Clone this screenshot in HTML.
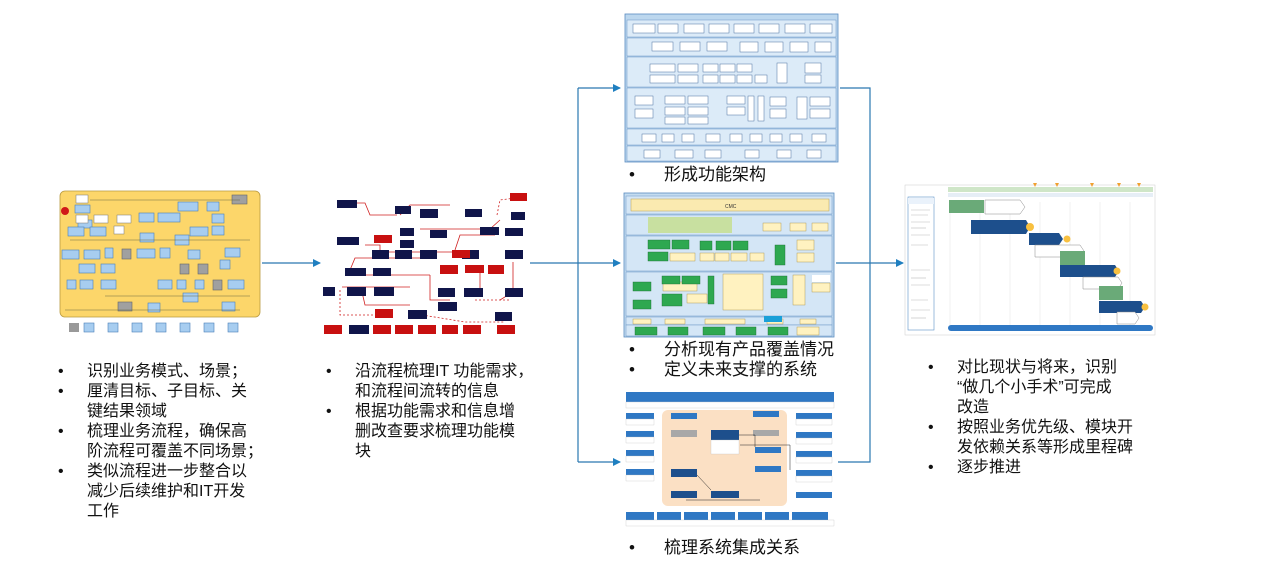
<!DOCTYPE html>
<html><head><meta charset="utf-8">
<style>
body{margin:0;width:1270px;height:572px;background:#fff;position:relative;overflow:hidden;font-family:"Liberation Sans","Noto Sans CJK SC",sans-serif;color:#111}
.t{position:absolute;font-size:16px;line-height:20px}
.t .b{position:absolute;left:-29px}
.c{font-size:17px}
svg{position:absolute;left:0;top:0}
</style></head><body>
<svg width="1270" height="572" viewBox="0 0 1270 572">
<defs>
<marker id="ar" markerWidth="8" markerHeight="8" refX="7" refY="4" orient="auto" markerUnits="userSpaceOnUse"><path d="M0,0 L8,4 L0,8 z" fill="#1f7fc0"/></marker>
</defs>
<g stroke="#2a78b0" stroke-width="1.2" fill="none">
<line x1="262" y1="263" x2="320" y2="263" marker-end="url(#ar)"/>
<polyline points="530,263 578,263"/>
<line x1="578" y1="88" x2="578" y2="462"/>
<line x1="578" y1="88" x2="620" y2="88" marker-end="url(#ar)"/>
<line x1="578" y1="263" x2="620" y2="263" marker-end="url(#ar)"/>
<line x1="578" y1="462" x2="620" y2="462" marker-end="url(#ar)"/>
<polyline points="840,88 870,88 870,462 838,462"/>
<line x1="836" y1="263" x2="870" y2="263"/>
<line x1="870" y1="263" x2="903" y2="263" marker-end="url(#ar)"/>
</g>

<rect x="60" y="191" width="200" height="126" rx="5" fill="#fcd66a" stroke="#b99a40" stroke-width="0.8"/>
<circle cx="65" cy="211" r="4" fill="#d01818"/>
<g fill="#a7cdf0" stroke="#4a7fb8" stroke-width="0.6">
<rect x="75" y="205" width="15" height="8"/><rect x="78" y="220" width="14" height="8"/>
<rect x="68" y="227" width="16" height="9"/><rect x="90" y="227" width="16" height="9"/>
<rect x="139" y="213" width="15" height="9"/><rect x="158" y="213" width="22" height="9"/>
<rect x="178" y="202" width="20" height="9"/><rect x="207" y="202" width="12" height="9"/>
<rect x="212" y="214" width="12" height="9"/><rect x="212" y="226" width="12" height="9"/>
<rect x="190" y="227" width="18" height="9"/><rect x="140" y="233" width="14" height="9"/>
<rect x="62" y="250" width="17" height="9"/><rect x="84" y="250" width="16" height="9"/>
<rect x="105" y="248" width="8" height="10"/><rect x="137" y="249" width="18" height="9"/>
<rect x="160" y="248" width="10" height="10"/><rect x="188" y="250" width="12" height="9"/>
<rect x="225" y="248" width="15" height="9"/><rect x="220" y="260" width="10" height="9"/>
<rect x="79" y="264" width="16" height="9"/><rect x="101" y="264" width="14" height="9"/>
<rect x="67" y="280" width="9" height="9"/><rect x="80" y="280" width="13" height="9"/>
<rect x="101" y="280" width="15" height="9"/><rect x="158" y="280" width="14" height="9"/>
<rect x="177" y="280" width="9" height="9"/><rect x="195" y="280" width="9" height="9"/>
<rect x="228" y="280" width="16" height="9"/><rect x="183" y="293" width="15" height="9"/>
<rect x="148" y="303" width="12" height="9"/><rect x="222" y="302" width="13" height="9"/>
<rect x="175" y="235" width="14" height="10"/>
</g>
<g fill="#a0a0a0" stroke="#666" stroke-width="0.6">
<rect x="232" y="195" width="15" height="9"/><rect x="122" y="249" width="9" height="10"/>
<rect x="180" y="264" width="9" height="10"/><rect x="198" y="264" width="10" height="10"/>
<rect x="213" y="280" width="9" height="10"/><rect x="118" y="302" width="14" height="9"/>
</g>
<g fill="#fff" stroke="#777" stroke-width="0.5">
<rect x="76" y="195" width="12" height="8"/><rect x="76" y="215" width="12" height="8"/>
<rect x="94" y="215" width="14" height="8"/><rect x="117" y="215" width="14" height="8"/>
<rect x="114" y="226" width="10" height="8"/>
</g>
<g stroke="#6a6a40" stroke-width="0.5" fill="none">
<polyline points="90,200 240,200"/><polyline points="70,240 250,240"/><polyline points="105,296 250,296"/><polyline points="65,310 240,310"/>
</g>
<g fill="#a7cdf0" stroke="#4a7fb8" stroke-width="0.6">
<rect x="84" y="323" width="10" height="9"/><rect x="108" y="323" width="10" height="9"/>
<rect x="132" y="323" width="10" height="9"/><rect x="156" y="323" width="10" height="9"/>
<rect x="180" y="323" width="10" height="9"/><rect x="204" y="323" width="10" height="9"/>
<rect x="228" y="323" width="10" height="9"/>
</g>
<rect x="69" y="323" width="10" height="9" fill="#999"/>

<g stroke="#d02020" stroke-width="0.8" fill="none">
<polyline points="350,203 365,203 370,215 397,215"/>
<polyline points="400,215 410,205 450,205"/>
<polyline points="420,229 490,229 500,220"/>
<polyline points="365,245 380,245 380,252 470,252"/>
<polyline points="350,270 355,258 425,258"/>
<polyline points="342,287 350,287 370,287 410,287"/>
<polyline points="362,292 365,305 410,305"/>
<polyline points="430,275 430,300 450,300"/>
<polyline points="480,265 480,290"/>
<polyline points="513,262 513,292 500,300"/>
<polyline points="455,250 460,235 495,235"/>
<polyline points="365,275 430,275"/>
</g>
<g stroke="#d02020" stroke-width="0.8" fill="none" stroke-dasharray="2,2">
<polyline points="340,290 340,315 380,315"/>
<polyline points="410,313 465,322 505,322"/>
<polyline points="497,215 500,200 515,198"/>
<polyline points="475,300 510,300"/>
</g>
<g fill="#10154a">
<rect x="337" y="200" width="20" height="8"/><rect x="395" y="206" width="16" height="8"/>
<rect x="420" y="209" width="18" height="9"/><rect x="465" y="209" width="17" height="8"/>
<rect x="511" y="212" width="14" height="8"/><rect x="430" y="230" width="17" height="8"/>
<rect x="400" y="228" width="14" height="8"/><rect x="400" y="240" width="14" height="8"/>
<rect x="337" y="237" width="22" height="8"/><rect x="372" y="250" width="17" height="9"/>
<rect x="395" y="250" width="17" height="9"/><rect x="420" y="250" width="17" height="9"/>
<rect x="480" y="227" width="19" height="8"/><rect x="505" y="228" width="18" height="8"/>
<rect x="462" y="250" width="17" height="9"/><rect x="505" y="250" width="18" height="9"/>
<rect x="345" y="268" width="21" height="8"/><rect x="373" y="268" width="18" height="8"/>
<rect x="323" y="287" width="12" height="9"/><rect x="347" y="287" width="19" height="9"/>
<rect x="374" y="287" width="20" height="9"/><rect x="438" y="288" width="17" height="9"/>
<rect x="464" y="288" width="19" height="9"/><rect x="505" y="288" width="18" height="9"/>
<rect x="438" y="302" width="19" height="9"/><rect x="408" y="310" width="19" height="9"/>
<rect x="495" y="312" width="17" height="9"/><rect x="349" y="325" width="20" height="9"/>
</g>
<g fill="#c81010">
<rect x="374" y="235" width="18" height="8"/><rect x="452" y="250" width="18" height="8"/>
<rect x="440" y="265" width="18" height="9"/><rect x="465" y="265" width="19" height="8"/>
<rect x="488" y="265" width="16" height="9"/><rect x="510" y="193" width="17" height="8"/>
<rect x="375" y="309" width="18" height="9"/>
<rect x="324" y="325" width="18" height="9"/><rect x="373" y="325" width="18" height="9"/>
<rect x="395" y="325" width="18" height="9"/><rect x="418" y="325" width="18" height="9"/>
<rect x="442" y="325" width="16" height="9"/><rect x="463" y="325" width="18" height="9"/>
<rect x="497" y="325" width="18" height="9"/>
</g>

<rect x="625" y="14" width="213" height="148" fill="#bcd7ee" stroke="#5a8cc0" stroke-width="0.8"/>
<g fill="#dcebf8" stroke="#6a96c6" stroke-width="0.5">
<rect x="627" y="20" width="209" height="17"/>
<rect x="627" y="38" width="209" height="18"/>
<rect x="627" y="57" width="209" height="30"/>
<rect x="627" y="88" width="209" height="40"/>
<rect x="627" y="129" width="209" height="16"/>
<rect x="627" y="146" width="209" height="15"/>
</g>
<g fill="#fff" stroke="#4a72a0" stroke-width="0.5">
<rect x="633" y="24" width="22" height="9"/><rect x="658" y="24" width="20" height="9"/><rect x="684" y="24" width="20" height="9"/><rect x="709" y="24" width="20" height="9"/><rect x="734" y="24" width="20" height="9"/><rect x="759" y="24" width="20" height="9"/><rect x="785" y="24" width="20" height="9"/><rect x="810" y="24" width="22" height="9"/>
<rect x="652" y="42" width="21" height="9"/><rect x="680" y="42" width="20" height="9"/><rect x="707" y="42" width="20" height="9"/><rect x="740" y="42" width="18" height="10"/><rect x="765" y="42" width="18" height="10"/><rect x="790" y="42" width="18" height="10"/><rect x="815" y="42" width="16" height="10"/>
<rect x="650" y="64" width="25" height="8"/><rect x="678" y="64" width="20" height="8"/><rect x="650" y="75" width="25" height="8"/><rect x="678" y="75" width="20" height="8"/><rect x="703" y="64" width="15" height="8"/><rect x="720" y="64" width="15" height="8"/><rect x="737" y="64" width="15" height="8"/><rect x="703" y="75" width="15" height="8"/><rect x="720" y="75" width="15" height="8"/><rect x="737" y="75" width="15" height="8"/><rect x="755" y="75" width="12" height="8"/><rect x="777" y="63" width="10" height="20"/><rect x="805" y="63" width="16" height="10"/><rect x="805" y="75" width="16" height="8"/>
<rect x="635" y="96" width="18" height="9"/><rect x="635" y="109" width="18" height="9"/><rect x="665" y="96" width="20" height="8"/><rect x="688" y="96" width="20" height="8"/><rect x="665" y="107" width="20" height="8"/><rect x="688" y="107" width="20" height="8"/><rect x="665" y="117" width="20" height="7"/><rect x="688" y="117" width="20" height="7"/><rect x="727" y="96" width="18" height="8"/><rect x="727" y="107" width="18" height="8"/><rect x="748" y="96" width="6" height="25"/><rect x="758" y="96" width="6" height="25"/><rect x="770" y="97" width="16" height="9"/><rect x="770" y="109" width="16" height="9"/><rect x="797" y="97" width="10" height="22"/><rect x="810" y="97" width="20" height="9"/><rect x="810" y="109" width="20" height="9"/>
<rect x="642" y="134" width="14" height="8"/><rect x="662" y="134" width="12" height="8"/><rect x="682" y="134" width="12" height="8"/><rect x="706" y="134" width="14" height="8"/><rect x="730" y="134" width="12" height="8"/><rect x="750" y="134" width="12" height="8"/><rect x="770" y="134" width="12" height="8"/><rect x="790" y="134" width="12" height="8"/><rect x="812" y="134" width="14" height="8"/>
<rect x="644" y="150" width="16" height="8"/><rect x="675" y="150" width="18" height="8"/><rect x="705" y="150" width="16" height="8"/><rect x="745" y="150" width="14" height="8"/><rect x="777" y="150" width="14" height="8"/><rect x="807" y="150" width="14" height="8"/>
</g>

<rect x="624" y="193" width="210" height="144" fill="#c4dcf0" stroke="#5a8cc0" stroke-width="0.8"/>
<g fill="#d4e6f6" stroke="#6a96c6" stroke-width="0.5">
<rect x="626" y="196" width="206" height="18"/><rect x="626" y="215" width="206" height="20"/><rect x="626" y="236" width="206" height="35"/><rect x="626" y="272" width="206" height="44"/><rect x="626" y="317" width="206" height="8"/><rect x="626" y="325" width="206" height="11"/>
</g>
<rect x="631" y="199" width="198" height="12" fill="#faeab0" stroke="#b9a050" stroke-width="0.5"/>
<text x="725" y="208" font-size="5" fill="#333">CMC</text>
<rect x="648" y="217" width="84" height="16" fill="#c8e0a0"/>
<g fill="#fff2c0" stroke="#a08a40" stroke-width="0.4">
<rect x="763" y="223" width="18" height="8"/><rect x="790" y="223" width="16" height="8"/><rect x="812" y="223" width="16" height="8"/>
<rect x="670" y="253" width="25" height="8"/><rect x="700" y="253" width="14" height="8"/><rect x="715" y="253" width="14" height="8"/><rect x="731" y="253" width="16" height="8"/><rect x="750" y="253" width="14" height="8"/><rect x="797" y="240" width="17" height="10"/><rect x="797" y="253" width="17" height="9"/>
<rect x="663" y="282" width="34" height="9"/><rect x="687" y="294" width="20" height="9"/><rect x="723" y="274" width="40" height="36"/><rect x="793" y="275" width="12" height="30"/><rect x="812" y="283" width="18" height="9"/>
<rect x="633" y="319" width="18" height="5"/><rect x="665" y="319" width="20" height="5"/><rect x="705" y="319" width="40" height="5"/><rect x="767" y="319" width="16" height="5"/><rect x="800" y="319" width="16" height="5"/><rect x="797" y="327" width="22" height="8"/>
</g>
<g fill="#2ea850" stroke="#1b6a30" stroke-width="0.4">
<rect x="648" y="240" width="22" height="9"/><rect x="672" y="240" width="17" height="9"/><rect x="648" y="252" width="20" height="9"/>
<rect x="700" y="241" width="12" height="9"/><rect x="716" y="241" width="15" height="9"/><rect x="733" y="241" width="15" height="9"/><rect x="775" y="245" width="10" height="20"/>
<rect x="633" y="282" width="18" height="9"/><rect x="633" y="300" width="18" height="9"/><rect x="662" y="276" width="18" height="8"/><rect x="682" y="276" width="18" height="8"/><rect x="662" y="294" width="20" height="12"/><rect x="708" y="276" width="6" height="28"/><rect x="771" y="276" width="16" height="9"/><rect x="771" y="289" width="16" height="9"/>
<rect x="635" y="327" width="22" height="8"/><rect x="668" y="327" width="20" height="8"/><rect x="703" y="327" width="22" height="8"/><rect x="736" y="327" width="20" height="8"/><rect x="768" y="327" width="20" height="8"/>
</g>
<rect x="764" y="316" width="18" height="6" fill="#1aa0d8"/>
<rect x="812" y="275" width="18" height="7" fill="#fff"/>

<rect x="626" y="392" width="208" height="10" fill="#2f78c4"/>
<rect x="626" y="402" width="208" height="6" fill="#fff" stroke="#ccc" stroke-width="0.4"/>
<rect x="662" y="410" width="125" height="96" rx="6" fill="#fbe0c4"/>
<g fill="#2f78c4">
<rect x="626" y="413" width="28" height="6"/><rect x="626" y="431" width="28" height="6"/><rect x="626" y="450" width="28" height="6"/><rect x="626" y="469" width="28" height="6"/>
<rect x="671" y="413" width="26" height="6"/><rect x="753" y="411" width="26" height="6"/><rect x="755" y="447" width="26" height="6"/><rect x="755" y="466" width="26" height="6"/>
<rect x="796" y="413" width="36" height="6"/><rect x="796" y="432" width="36" height="6"/><rect x="796" y="451" width="36" height="6"/><rect x="796" y="470" width="36" height="6"/><rect x="796" y="492" width="36" height="6"/>
<rect x="626" y="512" width="28" height="8"/><rect x="657" y="512" width="24" height="8"/><rect x="684" y="512" width="24" height="8"/><rect x="711" y="512" width="24" height="8"/><rect x="738" y="512" width="24" height="8"/><rect x="765" y="512" width="24" height="8"/><rect x="792" y="512" width="36" height="8"/>
</g>
<g fill="#1d4f8c">
<rect x="711" y="430" width="28" height="10"/><rect x="671" y="469" width="26" height="8"/><rect x="671" y="491" width="26" height="7"/><rect x="711" y="491" width="28" height="7"/>
</g>
<g fill="#a8a8a8"><rect x="671" y="430" width="26" height="7"/><rect x="753" y="430" width="26" height="6"/></g>
<g fill="#fff" stroke="#bbb" stroke-width="0.3">
<rect x="711" y="440" width="28" height="14"/><rect x="626" y="419" width="28" height="6"/><rect x="626" y="437" width="28" height="6"/><rect x="626" y="456" width="28" height="6"/><rect x="626" y="475" width="28" height="6"/>
<rect x="796" y="419" width="36" height="6"/><rect x="796" y="438" width="36" height="6"/><rect x="796" y="457" width="36" height="6"/><rect x="796" y="476" width="36" height="6"/>
<rect x="626" y="520" width="208" height="6"/>
</g>
<g stroke="#222" stroke-width="0.5" fill="none">
<polyline points="739,435 755,435 755,447"/><polyline points="697,475 711,490"/><polyline points="740,445 790,445 790,470"/><line x1="686" y1="500" x2="760" y2="500"/>
</g>

<rect x="905" y="185" width="250" height="150" fill="#fff" stroke="#ccc" stroke-width="0.5"/>
<rect x="908" y="197" width="26" height="133" fill="#fff" stroke="#5a90c8" stroke-width="0.6"/>
<rect x="908" y="198" width="26" height="6" fill="#eaf2fb"/>
<g stroke="#bbb" stroke-width="0.6">
<line x1="911" y1="210" x2="930" y2="210"/><line x1="911" y1="215" x2="928" y2="215"/><line x1="911" y1="222" x2="930" y2="222"/><line x1="911" y1="228" x2="926" y2="228"/><line x1="911" y1="235" x2="930" y2="235"/><line x1="911" y1="245" x2="928" y2="245"/><line x1="911" y1="270" x2="930" y2="270"/><line x1="911" y1="278" x2="926" y2="278"/><line x1="911" y1="285" x2="930" y2="285"/><line x1="911" y1="300" x2="928" y2="300"/><line x1="911" y1="310" x2="930" y2="310"/><line x1="911" y1="318" x2="926" y2="318"/>
</g>
<g stroke="#ddd" stroke-width="0.4">
<line x1="950" y1="202" x2="950" y2="325"/><line x1="980" y1="202" x2="980" y2="325"/><line x1="1010" y1="202" x2="1010" y2="325"/><line x1="1040" y1="202" x2="1040" y2="325"/><line x1="1070" y1="202" x2="1070" y2="325"/><line x1="1100" y1="202" x2="1100" y2="325"/><line x1="1130" y1="202" x2="1130" y2="325"/>
</g>
<rect x="948" y="187" width="205" height="5" fill="#cfe6c8"/>
<rect x="948" y="193" width="205" height="4" fill="#e6eef6"/>
<g fill="#f0a030"><path d="M1033,183 l4,0 l-2,4z"/><path d="M1055,183 l4,0 l-2,4z"/><path d="M1090,183 l4,0 l-2,4z"/><path d="M1117,183 l4,0 l-2,4z"/><path d="M1137,183 l4,0 l-2,4z"/></g>
<rect x="949" y="200" width="35" height="13" fill="#6aaa78"/>
<path d="M985,200 h35 l5,7 l-5,7 h-35z" fill="#fff" stroke="#888" stroke-width="0.5"/>
<path d="M971,220 h55 l4,7 l-4,7 h-55z" fill="#1d4f8c"/>
<path d="M1029,233 h30 l4,6 l-4,6 h-30z" fill="#1d4f8c"/>
<path d="M1035,245 h45 l4,6 l-4,6 h-45z" fill="#fff" stroke="#888" stroke-width="0.5"/>
<rect x="1060" y="251" width="25" height="14" fill="#6aaa78"/>
<path d="M1060,265 h55 l4,6 l-4,6 h-55z" fill="#1d4f8c"/>
<path d="M1083,277 h35 l4,6 l-4,6 h-35z" fill="#fff" stroke="#888" stroke-width="0.5"/>
<rect x="1099" y="286" width="24" height="14" fill="#6aaa78"/>
<path d="M1099,301 h42 l4,6 l-4,6 h-42z" fill="#1d4f8c"/>
<path d="M1117,312 h18 l4,6 l-4,6 h-18z" fill="#fff" stroke="#888" stroke-width="0.5"/>
<g fill="#f8c040"><circle cx="1030" cy="227" r="4"/><circle cx="1067" cy="239" r="3.5"/><circle cx="1117" cy="271" r="3.5"/><circle cx="1145" cy="307" r="3.5"/></g>
<rect x="948" y="325" width="205" height="6" rx="3" fill="#2f78c4"/>
</svg>

<div class="t" style="left:87px;top:362px;width:190px">
<div style="position:relative"><span class="b">•</span>识别业务模式、场景；</div>
<div style="position:relative"><span class="b">•</span>厘清目标、子目标、关<br>键结果领域</div>
<div style="position:relative"><span class="b">•</span>梳理业务流程，确保高<br>阶流程可覆盖不同场景；</div>
<div style="position:relative"><span class="b">•</span>类似流程进一步整合以<br>减少后续维护和IT开发<br>工作</div>
</div>
<div class="t" style="left:355px;top:362px;width:200px">
<div style="position:relative"><span class="b">•</span>沿流程梳理IT 功能需求，<br>和流程间流转的信息</div>
<div style="position:relative"><span class="b">•</span>根据功能需求和信息增<br>删改查要求梳理功能模<br>块</div>
</div>
<div class="t c" style="left:664px;top:165px"><div style="position:relative"><span class="b" style="left:-35px">•</span>形成功能架构</div></div>
<div class="t c" style="left:664px;top:340px">
<div style="position:relative"><span class="b" style="left:-35px">•</span>分析现有产品覆盖情况</div>
<div style="position:relative"><span class="b" style="left:-35px">•</span>定义未来支撑的系统</div>
</div>
<div class="t c" style="left:664px;top:538px"><div style="position:relative"><span class="b" style="left:-35px">•</span>梳理系统集成关系</div></div>
<div class="t" style="left:957px;top:358px;width:200px">
<div style="position:relative"><span class="b">•</span>对比现状与将来，识别<br>“做几个小手术”可完成<br>改造</div>
<div style="position:relative"><span class="b">•</span>按照业务优先级、模块开<br>发依赖关系等形成里程碑</div>
<div style="position:relative"><span class="b">•</span>逐步推进</div>
</div>
</body></html>
